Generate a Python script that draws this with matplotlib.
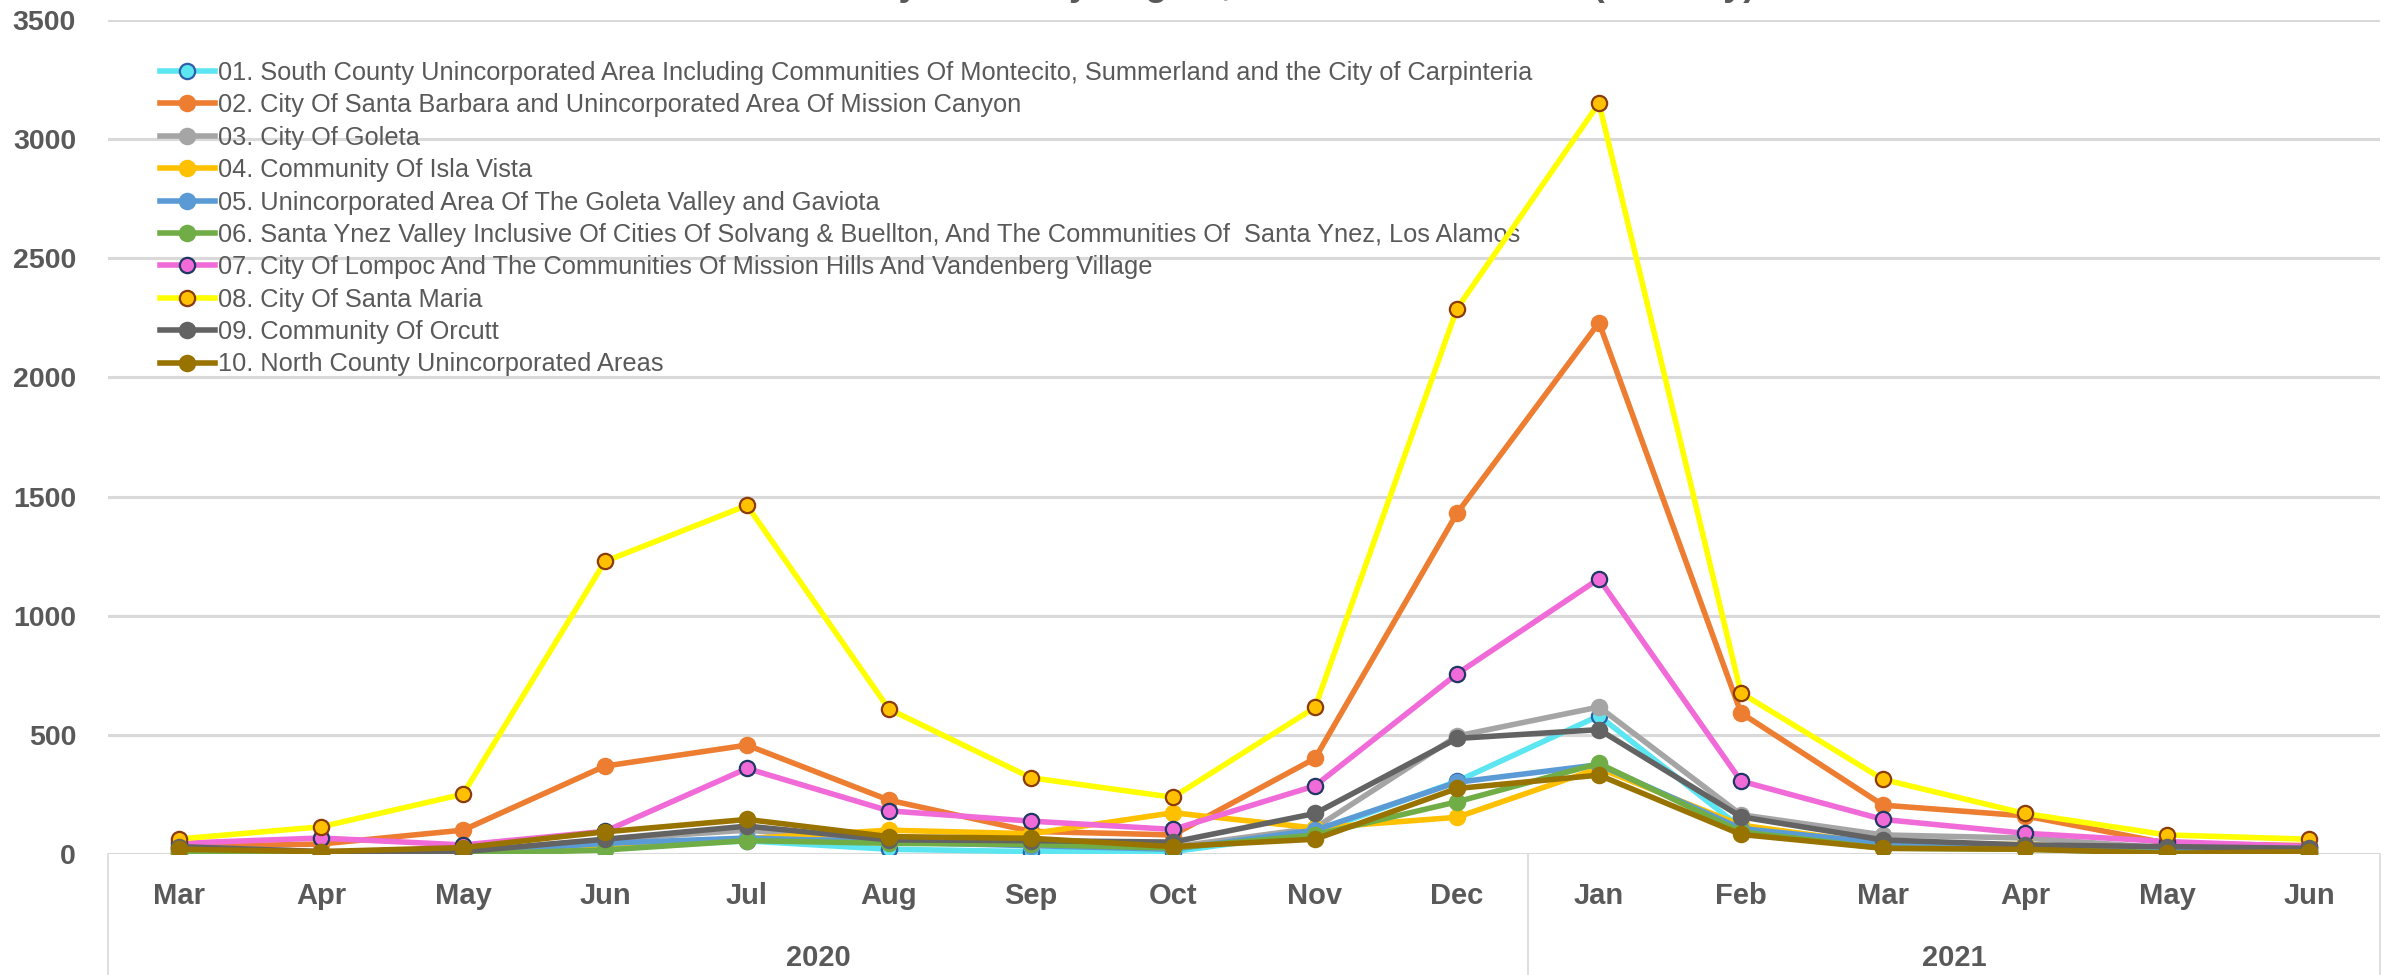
import matplotlib
matplotlib.use("Agg")
import matplotlib.pyplot as plt
from matplotlib.lines import Line2D
import matplotlib.transforms as mtransforms

# ---------------- data ----------------
months = ['Mar', 'Apr', 'May', 'Jun', 'Jul', 'Aug', 'Sep', 'Oct', 'Nov', 'Dec',
          'Jan', 'Feb', 'Mar', 'Apr', 'May', 'Jun']
years = ['2020', '2021']
year_counts = [10, 6]

labels = [
    "01. South County Unincorporated Area Including Communities Of Montecito, Summerland and the City of Carpinteria",
    "02. City Of Santa Barbara and Unincorporated Area Of Mission Canyon",
    "03. City Of Goleta",
    "04. Community Of Isla Vista",
    "05. Unincorporated Area Of The Goleta Valley and Gaviota",
    "06. Santa Ynez Valley Inclusive Of Cities Of Solvang & Buellton, And The Communities Of  Santa Ynez, Los Alamos",
    "07. City Of Lompoc And The Communities Of Mission Hills And Vandenberg Village",
    "08. City Of Santa Maria",
    "09. Community Of Orcutt",
    "10. North County Unincorporated Areas",
]

s01 = [10, 3, 3, 25, 55, 20, 10, 10, 90, 305, 580, 110, 40, 30, 10, 8]
s02 = [30, 42, 100, 369, 457, 226, 95, 80, 401, 1430, 2230, 592, 205, 160, 45, 35]
s03 = [30, 10, 10, 60, 100, 52, 50, 30, 109, 495, 617, 165, 80, 67, 25, 15]
s04 = [0, 0, 0, 20, 65, 100, 85, 173, 109, 154, 360, 121, 40, 40, 10, 10]
s05 = [20, 5, 5, 45, 67, 50, 35, 20, 100, 301, 375, 107, 46, 35, 10, 10]
s06 = [5, 0, 0, 17, 56, 45, 40, 25, 80, 219, 380, 93, 24, 20, 5, 3]
s07 = [45, 67, 38, 95, 359, 181, 138, 103, 286, 756, 1155, 306, 145, 87, 52, 31]
s08 = [63, 114, 251, 1228, 1463, 608, 320, 238, 615, 2289, 3151, 676, 313, 170, 80, 62]
s09 = [31, 10, 10, 62, 117, 59, 56, 50, 170, 485, 522, 156, 59, 38, 31, 24]
s10 = [20, 10, 27, 93, 145, 73, 66, 31, 62, 275, 331, 82, 24, 20, 3, 10]

series = [s01, s02, s03, s04, s05, s06, s07, s08, s09, s10]

title = "COVID-19 Cases by Month by Region, Mar 2020 - Jun 2021 (Monthly)"

# ---------------- style ----------------
line_colors = ['#5CE6F2', '#ED7D31', '#A5A5A5', '#FFC000', '#5B9BD5',
               '#70AD47', '#F06BD8', '#FFFF00', '#636363', '#997300']
marker_faces = ['#5CE6F2', '#ED7D31', '#A5A5A5', '#FFC000', '#5B9BD5',
                '#70AD47', '#F06BD8', '#FFC000', '#636363', '#997300']
marker_edges = ['#2E5FA8', '#ED7D31', '#A5A5A5', '#FFC000', '#5B9BD5',
                '#70AD47', '#1F3864', '#8B3A0C', '#636363', '#997300']

text_color = '#595959'
grid_color = '#D9D9D9'
FONT = ['Liberation Sans', 'DejaVu Sans']
plt.rcParams['font.family'] = FONT

W, H = 2387, 975
fig = plt.figure(figsize=(W / 100, H / 100), dpi=100)
ax = fig.add_axes([108 / W, 1 - 854 / H, (2380 - 108) / W, (854 - 20) / H])

x = list(range(len(months)))
for i, s in enumerate(series):
    ax.plot(x, s, color=line_colors[i], lw=4.0, marker='o', ms=11,
            mfc=marker_faces[i], mec=marker_edges[i], mew=1.6,
            label=labels[i], zorder=3 + i, solid_joinstyle='round')

ax.set_xlim(-0.5, len(months) - 0.5)
ax.set_ylim(0, 3500)
ax.set_yticks(range(0, 3501, 500))
ax.yaxis.grid(True, color=grid_color, lw=2.2, zorder=0)
ax.set_axisbelow(True)
for sp in ax.spines.values():
    sp.set_visible(False)

ax.set_xticks(x)
ax.set_xticklabels(months)
ax.tick_params(axis='x', length=0, pad=20, labelsize=21, labelcolor=text_color)
ax.tick_params(axis='y', length=0, pad=23, labelsize=20.5, labelcolor=text_color)
for lab in ax.get_xticklabels() + ax.get_yticklabels():
    lab.set_fontweight('bold')

# multi-level category axis: year labels and separators
trans = mtransforms.blended_transform_factory(ax.transData, ax.transAxes)
bottom_ax = -(H - 854) / (854 - 20)
start = -0.5
bounds = [start]
for yr, cnt in zip(years, year_counts):
    center = start + cnt / 2.0
    ax.text(center, -(958 - 854) / (854 - 20), yr, transform=trans, ha='center',
            va='center', fontsize=21, fontweight='bold', color=text_color)
    start += cnt
    bounds.append(start)
for b in bounds:
    ax.add_line(Line2D([b, b], [0, bottom_ax], transform=trans, color=grid_color,
                       lw=1.2, clip_on=False))

# title (cropped at the top edge as in the reference: only descenders show)
fig.text(584 / W, 1 + 5 / H, title,
         ha='left', va='baseline', fontsize=26, fontweight='bold', color=text_color)

leg = ax.legend(loc='upper left', bbox_to_anchor=(160 / W, 1 - 61 / H),
                bbox_transform=fig.transFigure, frameon=False, fontsize=18.3,
                handlelength=2.15, handletextpad=0.12, labelspacing=0.33,
                borderpad=0, borderaxespad=0)
for t in leg.get_texts():
    t.set_color(text_color)

fig.savefig('out.png', dpi=100)
